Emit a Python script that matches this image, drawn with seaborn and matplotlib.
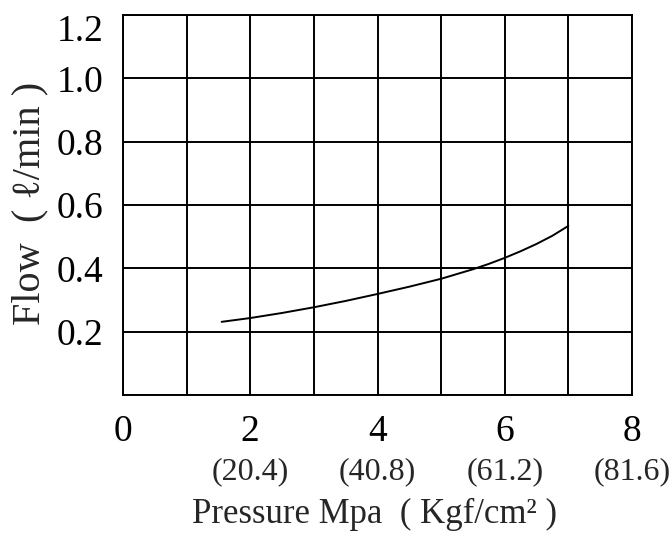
import matplotlib
matplotlib.use("Agg")
import matplotlib.pyplot as plt
import matplotlib.transforms as mtransforms
import seaborn as sns
import pandas as pd

pressure = [1.55, 2.0, 2.5, 3.0, 3.5, 4.0, 4.5, 5.0, 5.5, 5.75, 6.0, 6.25, 6.5, 6.75, 7.0]
flow = [0.231, 0.243, 0.259, 0.277, 0.297, 0.319, 0.342, 0.367, 0.397, 0.414, 0.433, 0.454, 0.477, 0.503, 0.534]

x_ticks = [0, 1, 2, 3, 4, 5, 6, 7, 8]
x_ticklabels = ["0", "", "2", "", "4", "", "6", "", "8"]
y_ticks = [0.0, 0.2, 0.4, 0.6, 0.8, 1.0, 1.2]
y_ticklabels = ["", "0.2", "0.4", "0.6", "0.8", "1.0", "1.2"]
kgf_pos = [2, 4, 6, 8]
kgf_labels = ["(20.4)", "(40.8)", "(61.2)", "(81.6)"]

sns.set_style("white")
plt.rcParams["font.family"] = ["Liberation Serif", "DejaVu Serif"]

fig = plt.figure(figsize=(6.71, 5.41), dpi=100)
ax = fig.add_axes([0.1833, 0.2699, 0.9419 - 0.1833, 0.9723 - 0.2699])

df = pd.DataFrame({"p": pressure, "f": flow})
sns.lineplot(data=df, x="p", y="f", ax=ax, color="black", linewidth=1.4)

ax.set_xlim(0, 8)
ax.set_ylim(0, 1.2)
ax.set_xticks(x_ticks)
ax.set_xticklabels(x_ticklabels, fontsize=27)
ax.set_yticks(y_ticks)
ax.set_yticklabels(y_ticklabels, fontsize=27)
ax.tick_params(axis="x", length=0, pad=14, colors="black")
ax.tick_params(axis="y", length=0, pad=14, colors="black")
ax.get_yticklabels()[-1].set_va("top")
ax.grid(True, color="black", linewidth=1.4)
for s in ax.spines.values():
    s.set_color("black")
    s.set_linewidth(1.4)

trans = mtransforms.blended_transform_factory(ax.transData, ax.transAxes)
for xp, lab in zip(kgf_pos, kgf_labels):
    ax.text(xp, -0.203, lab, transform=trans, ha="center", va="center", fontsize=23)

ax.set_xlabel("Pressure Mpa  ( Kgf/cm² )", fontsize=25)
ax.xaxis.set_label_coords(0.495, -0.27)
ax.set_ylabel("Flow  ( ℓ/min )", fontsize=29)
ax.yaxis.set_label_coords(-0.147, 0.504)

fig.savefig("out.png", dpi=100)
